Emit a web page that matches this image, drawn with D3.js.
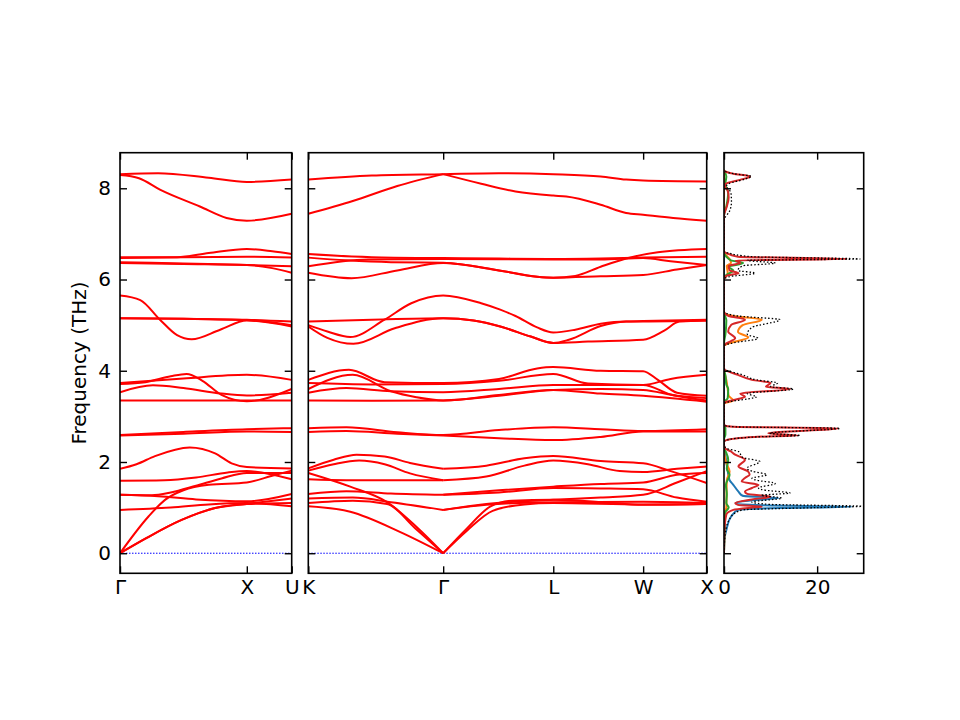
<!DOCTYPE html>
<meta charset="utf-8">
<title>Phonon bands and DOS</title>
<style>
  body {
    margin: 0;
    background: #fff;
  }

  text {
    font-family: "DejaVu Sans", sans-serif;
    font-size: 20px;
    fill: #000;
  }

  .band {
    fill: none;
    stroke: #ff0000;
    stroke-width: 2px;
  }

  .zero {
    stroke: #0000ff;
    stroke-width: 1px;
    stroke-dasharray: 1.5, 1.5;
  }

  .dos {
    fill: none;
    stroke-width: 2px;
  }

  .frame {
    fill: none;
    stroke: #000;
    stroke-width: 1.6px;
  }

  .tick line {
    stroke: #000;
    stroke-width: 1.4px;
  }
</style>

<body>
  <script src="https://d3js.org/d3.v7.min.js"></script>
  <script>
    // high-symmetry points along the path (units of 2pi/a)
    var leftTicks = [0, 1.0, 1.354];
    var leftLabels = ["Γ", "X", "U"];
    var rightTicks = [0, 1.061, 1.927, 2.634, 3.134];
    var rightLabels = ["K", "Γ", "L", "W", "X"];
    var freqTicks = [0, 2, 4, 6, 8];
    var dosTicks = [0, 20];

    // bands on Γ-X-U, each one a list of [q, THz]
    var bandsLeft = [
      [[0, 8.31], [0.3, 8.33], [0.7, 8.23], [1, 8.14], [1.354, 8.19]],
      [[0, 8.29], [0.15, 8.22], [0.315, 7.97], [0.63, 7.6], [0.84, 7.35], [1, 7.29], [1.354, 7.44]],
      [[0, 6.49], [0.45, 6.49], [0.7, 6.58], [1, 6.67], [1.2, 6.62], [1.354, 6.56]],
      [[0, 6.47], [0.5, 6.49], [1, 6.50], [1.354, 6.48]],
      [[0, 6.38], [0.5, 6.35], [1, 6.32], [1.354, 6.29]],
      [[0, 6.36], [0.5, 6.34], [1, 6.32], [1.2, 6.25], [1.354, 6.15]],
      [[0, 5.65], [0.16, 5.55], [0.315, 5.12], [0.45, 4.78], [0.565, 4.69], [0.79, 4.9], [1, 5.1], [1.354, 4.97]],
      [[0, 5.15], [0.5, 5.14], [1, 5.12], [1.354, 5.08]],
      [[0, 5.15], [0.5, 5.14], [1, 5.11], [1.354, 5.0]],
      [[0, 3.73], [0.5, 3.83], [1, 3.91], [1.354, 3.80]],
      [[0, 3.71], [0.2, 3.75], [0.4, 3.88], [0.525, 3.93], [0.65, 3.78], [0.8, 3.47], [1, 3.33], [1.354, 3.60]],
      [[0, 3.53], [0.26, 3.68], [0.5, 3.62], [0.8, 3.5], [1, 3.46], [1.354, 3.52]],
      [[0, 3.35], [0.5, 3.35], [1, 3.35], [1.354, 3.35]],
      [[0, 2.59], [0.5, 2.66], [1, 2.72], [1.354, 2.74]],
      [[0, 2.58], [0.5, 2.62], [1, 2.67], [1.354, 2.66]],
      [[0, 1.85], [0.13, 1.95], [0.276, 2.13], [0.55, 2.32], [0.75, 2.19], [0.88, 1.97], [1, 1.89], [1.354, 1.86]],
      [[0, 1.59], [0.35, 1.6], [0.6, 1.66], [0.85, 1.77], [1, 1.80], [1.354, 1.62]],
      [[0, 0], [0.223, 0.8], [0.355, 1.17], [0.5, 1.38], [0.7, 1.5], [1, 1.55], [1.2, 1.7], [1.354, 1.81]],
      [[0, 1.28], [0.25, 1.27], [0.4, 1.33], [0.6, 1.48], [0.8, 1.64], [1, 1.76], [1.354, 1.76]],
      [[0, 1.28], [0.3, 1.25], [0.6, 1.18], [1, 1.14], [1.354, 1.30]],
      [[0, 0.95], [0.4, 1.0], [0.7, 1.07], [1, 1.1], [1.354, 1.03]],
      [[0, 0], [0.2, 0.32], [0.486, 0.73], [0.75, 0.99], [1, 1.08], [1.354, 1.10]],
      [[0, 0], [0.2, 0.32], [0.486, 0.73], [0.75, 0.99], [1, 1.08], [1.354, 1.20]]
    ];

    // bands on K-Γ-L-W-X
    var bandsRight = [
      [[0, 8.19], [0.5, 8.28], [1.061, 8.31], [1.5, 8.33], [1.927, 8.31], [2.3, 8.26], [2.5, 8.19], [2.634, 8.17], [3.134, 8.15]],
      [[0, 7.44], [0.35, 7.72], [0.7, 8.05], [1.061, 8.31]],
      [[1.061, 8.31], [1.36, 8.1], [1.63, 7.93], [1.927, 7.84], [2.03, 7.82], [2.3, 7.64], [2.5, 7.46], [2.634, 7.42], [2.87, 7.35], [3.134, 7.29]],
      [[0, 6.56], [0.5, 6.49], [1.061, 6.47], [1.5, 6.46], [1.927, 6.45], [2.3, 6.46], [2.634, 6.48], [3.134, 6.50]],
      [[0, 6.29], [0.47, 6.44], [1.061, 6.45], [1.927, 6.44], [2.3, 6.44], [2.634, 6.47], [2.85, 6.4], [3.134, 6.32]],
      [[0, 6.48], [0.3, 6.42], [0.65, 6.38], [1.061, 6.37], [1.5, 6.20], [1.8, 6.06], [1.927, 6.04], [2.1, 6.08], [2.3, 6.28], [2.5, 6.46], [2.75, 6.6], [3.134, 6.67]],
      [[0, 6.15], [0.34, 6.03], [0.7, 6.2], [1.061, 6.36], [1.5, 6.20], [1.8, 6.06], [1.927, 6.04], [2.3, 6.07], [2.634, 6.10], [2.9, 6.22], [3.134, 6.32]],
      [[0, 5.0], [0.15, 4.86], [0.33, 4.74], [0.6, 5.12], [0.81, 5.48], [1.061, 5.65], [1.36, 5.48], [1.51, 5.34], [1.63, 5.2], [1.8, 4.95], [1.927, 4.84], [2.1, 4.9], [2.3, 5.03], [2.5, 5.08], [2.634, 5.08], [3.134, 5.10]],
      [[0, 5.08], [0.5, 5.12], [1.061, 5.15], [1.3, 5.1], [1.51, 4.97], [1.75, 4.75], [1.927, 4.61], [2.05, 4.68], [2.3, 4.98], [2.5, 5.08], [2.634, 5.09], [3.134, 5.12]],
      [[0, 4.97], [0.15, 4.72], [0.355, 4.59], [0.68, 4.93], [1.061, 5.15], [1.3, 5.1], [1.51, 4.97], [1.75, 4.75], [1.927, 4.61], [2.2, 4.64], [2.634, 4.68], [2.8, 4.88], [2.92, 5.08], [3.134, 5.10]],
      [[0, 3.80], [0.32, 4.02], [0.6, 3.75], [1.061, 3.73], [1.5, 3.82], [1.8, 4.05], [1.927, 4.08], [2.3, 4.0], [2.634, 3.99], [2.75, 3.8], [2.9, 3.52], [3.134, 3.45]],
      [[0, 3.73], [0.5, 3.70], [1.061, 3.71], [1.5, 3.78], [1.927, 3.93], [2.2, 3.72], [2.634, 3.69], [2.85, 3.82], [3.134, 3.91]],
      [[0, 3.52], [0.3, 3.62], [0.65, 3.55], [1.061, 3.53], [1.5, 3.6], [1.927, 3.69], [2.634, 3.69], [2.85, 3.48], [3.134, 3.35]],
      [[0, 3.60], [0.35, 3.91], [0.65, 3.55], [0.85, 3.42], [1.061, 3.35], [1.5, 3.47], [1.927, 3.58], [2.3, 3.5], [2.634, 3.45], [3.134, 3.32]],
      [[0, 3.35], [0.5, 3.34], [1.061, 3.35], [1.5, 3.45], [1.927, 3.58], [2.3, 3.6], [2.634, 3.58], [2.9, 3.45], [3.134, 3.40]],
      [[0, 2.74], [0.3, 2.76], [0.7, 2.65], [1.061, 2.59], [1.5, 2.7], [1.927, 2.76], [2.3, 2.72], [2.634, 2.68], [3.134, 2.72]],
      [[0, 2.66], [0.3, 2.68], [0.7, 2.62], [1.061, 2.58], [1.5, 2.52], [1.927, 2.48], [2.3, 2.55], [2.634, 2.67], [3.134, 2.67]],
      // K-Γ, low branches
      [[0, 1.86], [0.2, 2.05], [0.38, 2.16], [0.6, 2.12], [0.8, 1.98], [1.061, 1.85]],
      [[0, 1.81], [0.2, 1.95], [0.4, 2.03], [0.6, 1.95], [0.8, 1.75], [1.061, 1.60]],
      [[0, 1.62], [0.3, 1.6], [0.6, 1.6], [1.061, 1.60]],
      [[0, 1.76], [0.33, 1.46], [0.62, 1.12], [0.85, 0.58], [1.061, 0]],
      [[0, 1.30], [0.3, 1.36], [0.65, 1.31], [1.061, 1.28]],
      [[0, 1.20], [0.35, 1.22], [0.65, 1.12], [1.061, 0.95]],
      [[0, 1.10], [0.35, 1.15], [0.62, 1.08], [0.84, 0.55], [1.061, 0]],
      [[0, 1.03], [0.33, 0.91], [0.72, 0.47], [1.061, 0]],
      // Γ-L-W-X, low branches
      [[1.061, 1.85], [1.4, 1.92], [1.7, 2.08], [1.927, 2.13], [2.3, 2.02], [2.634, 1.97], [2.85, 1.8], [3.134, 1.54]],
      [[1.061, 1.60], [1.4, 1.68], [1.7, 1.92], [1.927, 2.03], [2.2, 1.95], [2.45, 1.8], [2.634, 1.78], [2.9, 1.85], [3.134, 1.90]],
      [[1.061, 1.28], [1.5, 1.38], [1.927, 1.46], [2.3, 1.52], [2.634, 1.55], [2.9, 1.72], [3.134, 1.76]],
      [[1.061, 1.28], [1.5, 1.33], [1.927, 1.43], [2.3, 1.42], [2.634, 1.40], [2.9, 1.22], [3.134, 1.13]],
      [[1.061, 0.95], [1.4, 1.08], [1.927, 1.17], [2.3, 1.22], [2.634, 1.28], [2.9, 1.55], [3.134, 1.80]],
      [[1.061, 0.95], [1.4, 1.06], [1.927, 1.12], [2.634, 1.13], [3.134, 1.10]],
      [[1.061, 0], [1.25, 0.55], [1.43, 1.02], [1.6, 1.15], [1.927, 1.17], [2.3, 1.12], [2.634, 1.06], [3.134, 1.08]],
      [[1.061, 0], [1.25, 0.5], [1.45, 0.93], [1.7, 1.07], [1.927, 1.10], [2.634, 1.07], [3.134, 1.08]]
    ];

    // density of states, each a list of [THz, states]
    var dosTotal = [
      [0, 0], [0.45, 0.3], [0.8, 1.5], [0.95, 4], [1.0, 20], [1.03, 29.6], [1.07, 10], [1.12, 6], [1.21, 12.4], [1.27, 8], [1.32, 14.2],
      [1.38, 9], [1.43, 7.4], [1.53, 11.0], [1.6, 7], [1.64, 6.0], [1.72, 9.2], [1.8, 6], [1.86, 4.9], [2.01, 7.7], [2.1, 4], [2.23, 3.1],
      [2.3, 0.5], [2.38, 0], [2.44, 0], [2.48, 0.6], [2.55, 7], [2.58, 16.3], [2.63, 9.8], [2.74, 24.9], [2.77, 2.5], [2.8, 0.2], [2.84, 0],
      [3.28, 0], [3.32, 1], [3.38, 5], [3.43, 7], [3.5, 5], [3.6, 14.9], [3.65, 10], [3.73, 11.5], [3.8, 7], [3.91, 4.0], [4.02, 0.3], [4.06, 0],
      [4.55, 0], [4.6, 1.5], [4.71, 7.3], [4.8, 5], [4.95, 6], [5.12, 12.0], [5.2, 3], [5.26, 0.5], [5.3, 0],
      [6.0, 0], [6.06, 1], [6.14, 6.7], [6.2, 3], [6.3, 4], [6.36, 11], [6.42, 5], [6.45, 29.2], [6.5, 6], [6.58, 1], [6.62, 0],
      [7.3, 0], [7.5, 1.2], [7.7, 1.6], [7.9, 1.5], [8.05, 0.5], [8.1, 1], [8.2, 4.5], [8.26, 5.9], [8.32, 2], [8.37, 0.3], [8.4, 0]
    ];
    var dosBlue = [
      [0, 0], [0.3, 0.1], [0.55, 0.6], [0.8, 1.5], [0.95, 3], [0.99, 12], [1.02, 27.5], [1.05, 8], [1.1, 2.5], [1.16, 6], [1.21, 11.7],
      [1.26, 4], [1.35, 3.1], [1.5, 2], [1.6, 1.2], [1.8, 0.8], [2.0, 0.5], [2.2, 0.2], [2.3, 0], [8.4, 0]
    ];
    var dosOrange = [
      [0, 0], [0.9, 0.2], [1.0, 0.5], [1.6, 0.6], [1.79, 1.2], [2.0, 0.4], [2.3, 0], [3.28, 0], [3.35, 2.0], [3.45, 1.0], [3.6, 0.8],
      [3.8, 0.5], [4.02, 0], [4.55, 0], [4.6, 1], [4.73, 5.2], [4.85, 3], [5.0, 4], [5.12, 8.1], [5.2, 2], [5.28, 0], [6.0, 0],
      [6.14, 0.8], [6.3, 0.6], [6.36, 1.5], [6.45, 1.2], [6.55, 0.3], [6.62, 0], [8.4, 0]
    ];
    var dosGreen = [
      [0, 0], [0.9, 0.3], [1.0, 1.0], [1.1, 0.5], [1.3, 0.6], [1.5, 0.4], [1.72, 1.2], [1.85, 0.6], [2.05, 0.9], [2.2, 0.5], [2.3, 0],
      [2.5, 0], [2.6, 0.3], [2.75, 0.3], [2.8, 0], [3.3, 0], [3.4, 0.8], [3.6, 0.9], [3.7, 0.5], [3.9, 0.3], [4.02, 0], [4.6, 0],
      [4.8, 0.3], [5.1, 0.5], [5.3, 0], [6.0, 0], [6.1, 0.5], [6.2, 2.0], [6.28, 1.0], [6.36, 4.1], [6.42, 1.5], [6.5, 0.5], [6.6, 0],
      [7.4, 0], [7.6, 0.5], [7.9, 0.9], [8.1, 0.3], [8.26, 0.5], [8.4, 0]
    ];
    var dosRed = [
      [0, 0], [0.5, 0.1], [0.85, 0.5], [0.95, 2], [1.0, 6], [1.02, 8.1], [1.06, 3], [1.1, 2.4], [1.18, 6], [1.24, 10.0], [1.3, 5],
      [1.35, 4.5], [1.43, 6], [1.5, 7.4], [1.57, 3.8], [1.65, 4.5], [1.72, 5.5], [1.79, 5.2], [1.9, 3.1], [2.05, 4.5], [2.16, 2.4],
      [2.23, 1.5], [2.3, 0.2], [2.38, 0], [2.44, 0], [2.48, 0.5], [2.55, 6.5], [2.58, 16.0], [2.63, 9.5], [2.74, 24.6], [2.77, 2],
      [2.8, 0.2], [2.84, 0], [3.28, 0], [3.32, 0.5], [3.38, 3], [3.43, 4.5], [3.5, 3.5], [3.6, 14.2], [3.65, 9], [3.73, 10.0], [3.8, 6],
      [3.91, 3.0], [4.02, 0.2], [4.06, 0], [4.55, 0], [4.6, 0.5], [4.71, 2.4], [4.86, 0.9], [5.0, 1.5], [5.12, 4.5], [5.2, 1], [5.26, 0.2],
      [5.3, 0], [6.0, 0], [6.08, 0.5], [6.14, 3.1], [6.2, 1.2], [6.3, 1.0], [6.36, 3.5], [6.42, 2.5], [6.45, 26.4], [6.5, 3], [6.58, 0.5],
      [6.62, 0], [7.4, 0], [7.6, 0.6], [7.8, 1.0], [7.95, 0.8], [8.05, 0.2], [8.1, 0.4], [8.2, 4], [8.26, 5.6], [8.32, 2], [8.37, 0.2], [8.4, 0]
    ];

    var width = 960,
      height = 720;
    var plotTop = 152.7,
      plotBottom = 573.3;
    var tickLen = 7;

    var svg = d3.select("body").append("svg")
      .attr("width", width)
      .attr("height", height);

    var y = d3.scaleLinear().domain([-0.44, 8.78]).range([plotBottom, plotTop]);

    function addClip(id, x0, x1) {
      svg.append("clipPath").attr("id", id)
        .append("rect")
        .attr("x", x0).attr("y", plotTop)
        .attr("width", x1 - x0).attr("height", plotBottom - plotTop);
    }

    function drawAxes(x, x0, x1, ticks, fmt, yLabels) {
      var bottom = svg.append("g")
        .attr("transform", "translate(0," + plotBottom + ")")
        .call(d3.axisBottom(x).tickValues(ticks).tickFormat(fmt)
          .tickSizeInner(-tickLen).tickSizeOuter(0).tickPadding(7));
      svg.append("g")
        .attr("transform", "translate(0," + plotTop + ")")
        .call(d3.axisTop(x).tickValues(ticks).tickFormat("")
          .tickSizeInner(-tickLen).tickSizeOuter(0));
      svg.append("g")
        .attr("transform", "translate(" + x0 + ",0)")
        .call(d3.axisLeft(y).tickValues(freqTicks).tickFormat(yLabels ? d3.format("d") : "")
          .tickSizeInner(-tickLen).tickSizeOuter(0).tickPadding(9));
      svg.append("g")
        .attr("transform", "translate(" + x1 + ",0)")
        .call(d3.axisRight(y).tickValues(freqTicks).tickFormat("")
          .tickSizeInner(-tickLen).tickSizeOuter(0));
      svg.selectAll(".domain").remove();
      svg.selectAll(".tick text").attr("font-family", null).attr("font-size", null);
      svg.append("rect")
        .attr("class", "frame")
        .attr("x", x0).attr("y", plotTop)
        .attr("width", x1 - x0).attr("height", plotBottom - plotTop);
    }

    function bandPanel(id, x0, x1, qmax, bands, ticks, labels, yLabels) {
      var x = d3.scaleLinear().domain([0, qmax]).range([x0, x1]);
      addClip(id, x0, x1);
      var g = svg.append("g").attr("clip-path", "url(#" + id + ")");

      g.append("line")
        .attr("class", "zero")
        .attr("x1", x(0)).attr("x2", x(qmax))
        .attr("y1", y(0)).attr("y2", y(0));

      var line = d3.line()
        .x(d => x(d[0]))
        .y(d => y(d[1]))
        .curve(d3.curveMonotoneX);

      g.selectAll(".band").data(bands)
        .enter().append("path")
        .attr("class", "band")
        .attr("d", line);

      drawAxes(x, x0, x1, ticks, d => labels[ticks.indexOf(d)], yLabels);
    }

    bandPanel("clipLeft", 120, 291.7, 1.354, bandsLeft, leftTicks, leftLabels, true);
    bandPanel("clipRight", 308.3, 706.7, 3.134, bandsRight, rightTicks, rightLabels, false);

    // DOS panel
    var xd = d3.scaleLinear().domain([0, 30]).range([724, 863.7]);
    addClip("clipDos", 724, 863.7);
    var gd = svg.append("g").attr("clip-path", "url(#clipDos)");

    var dosLine = d3.line()
      .x(d => xd(d[1]))
      .y(d => y(d[0]))
      .curve(d3.curveMonotoneY);

    var dosSeries = [
      { values: dosBlue, color: "#1f77b4" },
      { values: dosOrange, color: "#ff7f0e" },
      { values: dosGreen, color: "#2ca02c" },
      { values: dosRed, color: "#d62728" }
    ];

    gd.selectAll(".dos").data(dosSeries)
      .enter().append("path")
      .attr("class", "dos")
      .attr("stroke", d => d.color)
      .attr("d", d => dosLine(d.values));

    gd.append("path")
      .attr("fill", "none")
      .attr("stroke", "#000")
      .attr("stroke-width", 1.3)
      .attr("stroke-dasharray", "1.5,2")
      .attr("d", dosLine(dosTotal));

    drawAxes(xd, 724, 863.7, dosTicks, d3.format("d"), false);

    svg.append("text")
      .attr("transform", "translate(86," + (plotTop + plotBottom) / 2 + ") rotate(-90)")
      .attr("text-anchor", "middle")
      .text("Frequency (THz)");
  </script>
</body>

</html>
